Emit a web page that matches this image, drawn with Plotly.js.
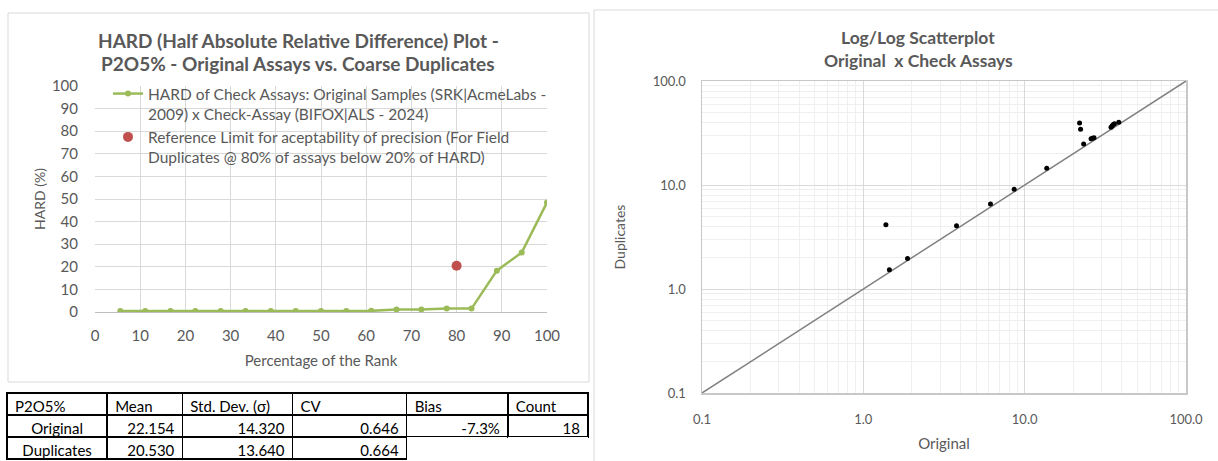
<!DOCTYPE html>
<html>
<head>
<meta charset="utf-8">
<script src="https://cdn.plot.ly/plotly-3.0.1.min.js"></script>
<style>
html,body{margin:0;padding:0;background:#fff;}
#chart{width:1218px;height:461px;}
</style>
</head>
<body>
<div id="chart"></div>
<script>
// ---------- DATA ----------
const rankPct = [5.6, 11.1, 16.7, 22.2, 27.8, 33.3, 38.9, 44.4, 50.0, 55.6, 61.1, 66.7, 72.2, 77.8, 83.3, 88.9, 94.4, 100.0];
const hardVals = [0.4, 0.4, 0.4, 0.4, 0.4, 0.4, 0.4, 0.4, 0.4, 0.4, 0.5, 1.1, 1.1, 1.6, 1.5, 18.3, 26.3, 48.5];
const refLimitX = [80];
const refLimitY = [20.5];

const originalVals   = [1.38, 1.45, 1.88, 3.78, 6.14, 8.61, 13.7, 21.9, 22.2, 23.2, 25.8, 26.3, 26.9, 34.3, 34.8, 35.3, 36.0, 38.3];
const duplicateVals  = [4.15, 1.53, 1.97, 4.06, 6.56, 9.08, 14.5, 39.5, 34.3, 24.8, 27.9, 28.1, 28.5, 35.9, 36.9, 38.0, 38.8, 40.1];
const oneToOne = [0.1, 100];

const tableHeader = ['P2O5%', 'Mean', 'Std. Dev. (σ)', 'CV', 'Bias', 'Count'];
const rowLabels  = ['Original', 'Duplicates'];
const meanVals   = [22.154, 20.530];
const stdVals    = [14.320, 13.640];
const cvVals     = [0.646, 0.664];
const biasVals   = [-7.3, null];
const countVals  = [18, null];

const logTickVals = [0.1, 1, 10, 100];
const logTickText = ['0.1', '1.0', '10.0', '100.0'];
const logMinorVals = [0.2,0.3,0.4,0.5,0.6,0.7,0.8,0.9,2,3,4,5,6,7,8,9,20,30,40,50,60,70,80,90];

// ---------- LAYOUT HELPERS ----------
const W = 1218, H = 461;
const px = v => v / W;
const py = v => 1 - v / H;
const FONT = 'Lato, "Open Sans", sans-serif';
const GREY = '#595959';
const CLEAR = 'rgba(0,0,0,0)';

const fmt3 = v => (v === null ? '' : v.toFixed(3));
const cellVals = [
  rowLabels,
  meanVals.map(fmt3),
  stdVals.map(fmt3),
  cvVals.map(fmt3),
  biasVals.map(v => v === null ? '' : v.toFixed(1) + '%'),
  countVals.map(v => v === null ? '' : String(v))
];
const lineCols = cellVals.map((col, ci) => col.map((v, ri) => (ci >= 4 && ri === 1) ? CLEAR : '#000'));

const traces = [
  {
    x: rankPct, y: hardVals, type: 'scatter', mode: 'lines+markers',
    name: 'HARD of Check Assays: Original Samples (SRK|AcmeLabs -<br>2009) x Check-Assay (BIFOX|ALS - 2024)',
    line: {color: '#9bbb59', width: 2.5},
    marker: {color: '#9bbb59', size: 6},
    xaxis: 'x', yaxis: 'y'
  },
  {
    x: refLimitX, y: refLimitY, type: 'scatter', mode: 'markers',
    name: 'Reference Limit for aceptability of precision (For Field<br>Duplicates @ 80% of assays below 20% of HARD)',
    marker: {color: '#c0504d', size: 10},
    xaxis: 'x', yaxis: 'y'
  },
  {
    x: oneToOne, y: oneToOne, type: 'scatter', mode: 'lines',
    line: {color: '#808080', width: 1.5}, showlegend: false, hoverinfo: 'skip',
    xaxis: 'x2', yaxis: 'y2'
  },
  {
    x: originalVals, y: duplicateVals, type: 'scatter', mode: 'markers',
    marker: {color: '#000', size: 5}, showlegend: false,
    xaxis: 'x2', yaxis: 'y2'
  },
  {
    type: 'table',
    domain: {x: [px(7), px(588)], y: [0, 1 - 393 / H]},
    columnwidth: [100, 75, 110, 114, 101, 80],
    header: {
      values: tableHeader,
      align: 'left', height: 22,
      line: {color: '#000', width: 1.5},
      fill: {color: '#fff'},
      font: {family: FONT, size: 15, color: '#000'}
    },
    cells: {
      values: cellVals,
      align: ['center', 'right', 'right', 'right', 'right', 'right'],
      height: 22,
      line: {color: lineCols, width: 1.5},
      fill: {color: '#fff'},
      font: {family: FONT, size: 15, color: '#000'}
    }
  }
];

const layout = {
  width: W, height: H,
  margin: {l: 0, r: 0, t: 0, b: 0},
  paper_bgcolor: '#fff', plot_bgcolor: '#fff',
  font: {family: FONT, color: GREY, size: 13},
  showlegend: true,
  legend: {
    x: px(108), y: py(77), xanchor: 'left', yanchor: 'top',
    bgcolor: CLEAR, font: {family: FONT, size: 15.5, color: GREY},
    valign: 'top', tracegroupgap: 2, itemwidth: 30
  },
  xaxis: {
    domain: [px(95), px(547)], range: [0, 100], dtick: 10, tick0: 0,
    showgrid: true, gridcolor: '#d9d9d9', zeroline: false,
    showline: true, linecolor: '#bfbfbf', linewidth: 1,
    ticks: 'outside', ticklen: 10, tickcolor: CLEAR, tickfont: {size: 15, color: GREY},
    title: {text: 'Percentage of the Rank', font: {size: 15, color: GREY}, standoff: 12},
    anchor: 'y'
  },
  yaxis: {
    domain: [py(312), py(86)], range: [0, 100], dtick: 10, tick0: 0,
    showgrid: true, gridcolor: '#d9d9d9', zeroline: false,
    showline: false, ticks: 'outside', ticklen: 13, tickcolor: CLEAR, tickfont: {size: 15, color: GREY},
    title: {text: 'HARD (%)', font: {size: 14, color: GREY}, standoff: 2},
    anchor: 'x'
  },
  xaxis2: {
    type: 'log', domain: [px(702), px(1186)], range: [-1, 2],
    tickmode: 'array', tickvals: logTickVals, ticktext: logTickText,
    showgrid: true, gridcolor: '#d9d9d9', zeroline: false,
    showline: true, linecolor: '#c8c8c8', linewidth: 1.5, mirror: true,
    ticks: 'outside', ticklen: 14, tickcolor: CLEAR, tickfont: {size: 13, color: GREY},
    minor: {tickmode: 'array', tickvals: logMinorVals, showgrid: true, gridcolor: '#efefef', ticks: ''},
    title: {text: 'Original', font: {size: 15, color: GREY}, standoff: 12},
    anchor: 'y2'
  },
  yaxis2: {
    type: 'log', domain: [py(393), py(81)], range: [-1, 2],
    tickmode: 'array', tickvals: logTickVals, ticktext: logTickText,
    showgrid: true, gridcolor: '#d9d9d9', zeroline: false,
    showline: true, linecolor: '#c8c8c8', linewidth: 1.5, mirror: true,
    ticks: 'outside', ticklen: 12, tickcolor: CLEAR, tickfont: {size: 13, color: GREY},
    minor: {tickmode: 'array', tickvals: logMinorVals, showgrid: true, gridcolor: '#efefef', ticks: ''},
    title: {text: 'Duplicates', font: {size: 14, color: GREY}, standoff: 24},
    anchor: 'x2'
  },
  annotations: [
    {text: '<b>HARD (Half Absolute Relative Difference) Plot -</b>', x: px(298), y: py(41), xref: 'paper', yref: 'paper',
     showarrow: false, font: {size: 19, color: GREY}, xanchor: 'center', yanchor: 'middle'},
    {text: '<b>P2O5% - Original Assays vs. Coarse Duplicates</b>', x: px(298), y: py(64), xref: 'paper', yref: 'paper',
     showarrow: false, font: {size: 19, color: GREY}, xanchor: 'center', yanchor: 'middle'},
    {text: '<b>Log/Log Scatterplot</b>', x: px(918), y: py(37), xref: 'paper', yref: 'paper',
     showarrow: false, font: {size: 17.5, color: GREY}, xanchor: 'center', yanchor: 'middle'},
    {text: '<b>Original  x Check Assays</b>', x: px(918), y: py(60), xref: 'paper', yref: 'paper',
     showarrow: false, font: {size: 17.5, color: GREY}, xanchor: 'center', yanchor: 'middle'}
  ],
  shapes: [
    {type: 'rect', xref: 'paper', yref: 'paper', x0: px(8), x1: px(589), y0: py(382), y1: py(13),
     line: {color: '#d9d9d9', width: 1}, fillcolor: CLEAR, layer: 'below'},
    {type: 'rect', xref: 'paper', yref: 'paper', x0: px(594), x1: px(1240), y0: py(470), y1: py(10),
     line: {color: '#d9d9d9', width: 1}, fillcolor: CLEAR, layer: 'below'}
  ]
};

Plotly.newPlot('chart', traces, layout, {displayModeBar: false, staticPlot: true});
</script>
</body>
</html>
